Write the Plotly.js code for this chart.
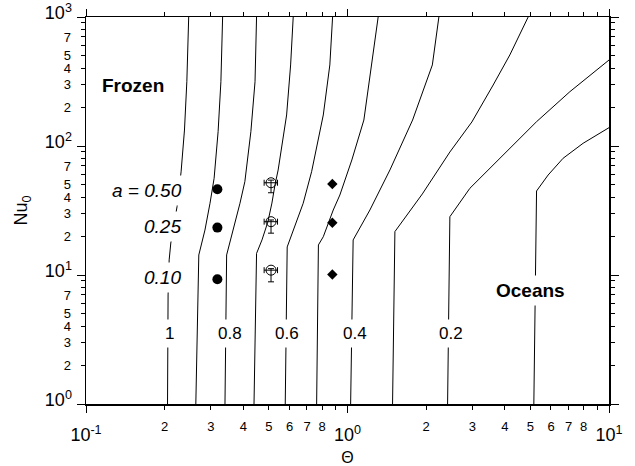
<!DOCTYPE html>
<html>
<head>
<meta charset="utf-8">
<script src="https://cdn.plot.ly/plotly-3.0.1.min.js"></script>
<style>html,body{margin:0;padding:0;background:#fff;}#chart{width:635px;height:466px;}</style>
</head>
<body>
<div id="chart"></div>
<script>
// ---- contour lines (Theta, Nu0) for each level ----
const levels = ['1', '0.9', '0.8', '0.7', '0.6', '0.5', '0.4', '0.3', '0.2', '0.1'];
const thetaC1 = [0.247, 0.243, 0.238, 0.231, 0.223, 0.211, 0.208, 0.206, 0.205];
const nuC1    = [1000, 315, 133, 63, 34, 17.7, 13.1, 7, 1];
const thetaC2 = [0.333, 0.328, 0.320, 0.309, 0.298, 0.285, 0.270, 0.263];
const nuC2    = [1000, 315, 129, 56.2, 36.0, 22.3, 14.3, 1];
const thetaC3 = [0.449, 0.443, 0.427, 0.405, 0.388, 0.366, 0.345, 0.340];
const nuC3    = [1000, 315, 129, 52.9, 36.0, 22.3, 14.3, 1];
const thetaC4 = [0.620, 0.606, 0.585, 0.543, 0.528, 0.514, 0.496, 0.471, 0.449, 0.439];
const nuC4    = [1000, 425, 174, 65.2, 49.9, 36.1, 25.8, 18.7, 14.7, 1];
const thetaC5 = [0.877, 0.856, 0.808, 0.729, 0.677, 0.620, 0.588, 0.578];
const nuC5    = [1000, 425, 174, 63.2, 36.0, 22.3, 16.5, 1];
const thetaC6 = [1.310, 1.236, 1.155, 1.039, 0.935, 0.882, 0.808, 0.774, 0.762];
const nuC6    = [1000, 425, 159, 77.9, 41.7, 31.9, 19.8, 17.1, 1];
const thetaC7 = [2.236, 2.111, 1.774, 1.453, 1.218, 1.051, 1.028];
const nuC7    = [1000, 425, 159, 65.2, 31.9, 18.7, 1];
const thetaC8 = [4.908, 4.176, 3.606, 2.989, 2.463, 1.933, 1.518, 1.487];
const nuC8    = [1000, 508, 297, 153.5, 89.8, 42.5, 21.7, 1];
const thetaC9 = [10, 7.085, 5.284, 3.938, 2.937, 2.463, 2.414];
const nuC9    = [464, 263.6, 154.3, 85.2, 47.0, 28.3, 1];
const thetaC10 = [10, 7.962, 6.675, 5.852, 5.284, 5.159];
const nuC10    = [138.7, 105, 80.3, 59.6, 44.8, 1];

// ---- experimental points ----
const filledTheta = [0.318, 0.318, 0.318];
const filledNu    = [46.2, 23.3, 9.26];
const openTheta   = [0.51, 0.51, 0.51];
const openNu      = [51.9, 25.9, 10.9];
const openErrTheta = [0.03, 0.03, 0.03];
const openErrNuPlus  = [2.5, 0.8, 0.3];
const openErrNuMinus = [8.5, 4.8, 2.05];
const diamondTheta = [0.875, 0.875, 0.875];
const diamondNu    = [50.8, 25.4, 10.1];

// ---- labels ----
const aLabels = ['<i>a</i><i> = 0.50</i>', '<i>0.25</i>', '<i>0.10</i>'];
const contourLabels = ['1', '0.8', '0.6', '0.4', '0.2'];

// ---- tick labels ----
const xDecadeVals = [0.1, 1, 10];
const xDecadeText = ['10<sup>-1</sup>', '10<sup>0</sup>', '10<sup>1</sup>'];
const xDigitVals = [0.2, 0.3, 0.4, 0.5, 0.6, 0.7, 0.8, 2, 3, 4, 5, 6, 7, 8];
const xDigitText = ['2', '3', '4', '5', '6', '7', '8', '2', '3', '4', '5', '6', '7', '8'];
const xMinorVals = [0.2, 0.3, 0.4, 0.5, 0.6, 0.7, 0.8, 0.9, 2, 3, 4, 5, 6, 7, 8, 9];
const yDecadeVals = [1, 10, 100, 1000];
const yDecadeText = ['10<sup>0</sup>', '10<sup>1</sup>', '10<sup>2</sup>', '10<sup>3</sup>'];
const yDigitVals = [2, 3, 4, 5, 7, 20, 30, 40, 50, 70, 200, 300, 400, 500, 700];
const yDigitText = ['2', '3', '4', '5', '7', '2', '3', '4', '5', '7', '2', '3', '4', '5', '7'];
const yMinorVals = [2, 3, 4, 5, 6, 7, 8, 9, 20, 30, 40, 50, 60, 70, 80, 90, 200, 300, 400, 500, 600, 700, 800, 900];

const FONT = 'Liberation Sans, Arial, Helvetica, sans-serif';

const contourX = [thetaC1, thetaC2, thetaC3, thetaC4, thetaC5, thetaC6, thetaC7, thetaC8, thetaC9, thetaC10];
const contourY = [nuC1, nuC2, nuC3, nuC4, nuC5, nuC6, nuC7, nuC8, nuC9, nuC10];

const traces = contourX.map((xs, i) => ({
  x: xs, y: contourY[i], name: levels[i], type: 'scatter', mode: 'lines',
  line: {color: '#000', width: 1}, hoverinfo: 'skip', showlegend: false
}));

traces.push({
  x: filledTheta, y: filledNu, type: 'scatter', mode: 'markers',
  marker: {symbol: 'circle', size: 10, color: '#000'}, showlegend: false
});
traces.push({
  x: openTheta, y: openNu, type: 'scatter', mode: 'markers',
  marker: {symbol: 'circle-open', size: 10, color: '#000', line: {width: 1, color: '#000'}},
  error_x: {type: 'data', array: openErrTheta, color: '#000', thickness: 1, width: 3},
  error_y: {type: 'data', symmetric: false, array: openErrNuPlus, arrayminus: openErrNuMinus, color: '#000', thickness: 1, width: 3},
  showlegend: false
});
traces.push({
  x: diamondTheta, y: diamondNu, type: 'scatter', mode: 'markers', xaxis: 'x2', yaxis: 'y2',
  marker: {symbol: 'diamond', size: 8, color: '#000'}, showlegend: false
});

const P = (px) => (px - 86) / 523;
const Q = (py) => (404 - py) / 387;

const annotations = [];
annotations.push({xref: 'paper', yref: 'paper', x: P(100), y: Q(85), xanchor: 'left', yanchor: 'middle',
  text: '<b>Frozen</b>', showarrow: false, font: {family: FONT, size: 19, color: '#000'}});
annotations.push({xref: 'paper', yref: 'paper', x: P(530.5), y: Q(290.5), xanchor: 'center', yanchor: 'middle',
  text: '<b>Oceans</b>', showarrow: false, bgcolor: '#fff', borderpad: 4, font: {family: FONT, size: 19, color: '#000'}});
const aY = [190, 226, 277.5];
const aX = [187.3, 185.7, 185.7];
aLabels.forEach((t, i) => annotations.push({xref: 'paper', yref: 'paper', x: P(aX[i]), y: Q(aY[i]),
  xanchor: 'right', yanchor: 'middle', text: t, showarrow: false, bgcolor: '#fff', borderpad: 4,
  font: {family: FONT, size: 19, color: '#000'}}));
const cX = [169, 230, 287.3, 355, 451];
contourLabels.forEach((t, i) => annotations.push({xref: 'paper', yref: 'paper', x: P(cX[i]), y: Q(333),
  xanchor: 'center', yanchor: 'middle', text: t, showarrow: false, bgcolor: '#fff', borderpad: 4,
  font: {family: FONT, size: 17, color: '#000'}}));

const axisCommon = {
  type: 'log', showgrid: false, zeroline: false, color: '#000',
  tickcolor: '#000', tickwidth: 1
};

const layout = {
  width: 635, height: 466,
  margin: {l: 86, r: 26, t: 17, b: 62},
  paper_bgcolor: '#fff', plot_bgcolor: '#fff',
  showlegend: false,
  font: {family: FONT, color: '#000'},
  xaxis: Object.assign({}, axisCommon, {
    range: [-1, 1], tickmode: 'array', tickvals: xDecadeVals, ticktext: xDecadeText,
    ticks: 'outside', ticklen: 7, showline: true, linewidth: 1.5, linecolor: '#000', mirror: 'ticks',
    tickfont: {size: 18, family: FONT}, ticklabelstandoff: 7,
    minor: {tickmode: 'array', tickvals: xMinorVals, ticks: 'outside', ticklen: 4, tickcolor: '#000', tickwidth: 1, showgrid: false},
    title: {text: 'Θ', font: {size: 16, family: FONT}, standoff: 9}
  }),
  xaxis2: Object.assign({}, axisCommon, {
    overlaying: 'x', anchor: 'y2', side: 'bottom',
    range: [-1, 1], tickmode: 'array', tickvals: xDigitVals, ticktext: xDigitText,
    ticks: '', showline: false, tickfont: {size: 13, family: FONT}, ticklabelstandoff: 13
  }),
  yaxis: Object.assign({}, axisCommon, {
    range: [0, 3], tickmode: 'array', tickvals: yDecadeVals, ticktext: yDecadeText,
    ticks: 'outside', ticklen: 8, showline: true, linewidth: 1.5, linecolor: '#000', mirror: 'ticks',
    tickfont: {size: 18, family: FONT}, ticklabelstandoff: 1, ticklabelshift: -4,
    minor: {tickmode: 'array', tickvals: yMinorVals, ticks: 'outside', ticklen: 4, tickcolor: '#000', tickwidth: 1, showgrid: false},
    title: {text: 'Nu<sub>0</sub>', font: {size: 18, family: FONT}, standoff: 12}
  }),
  yaxis2: Object.assign({}, axisCommon, {
    overlaying: 'y', anchor: 'x2', side: 'left',
    range: [0, 3], tickmode: 'array', tickvals: yDigitVals, ticktext: yDigitText,
    ticks: '', showline: false, tickfont: {size: 13, family: FONT}, ticklabelstandoff: 14
  }),
  annotations: annotations
};

Plotly.newPlot('chart', traces, layout, {staticPlot: true, displayModeBar: false});
</script>
</body>
</html>
